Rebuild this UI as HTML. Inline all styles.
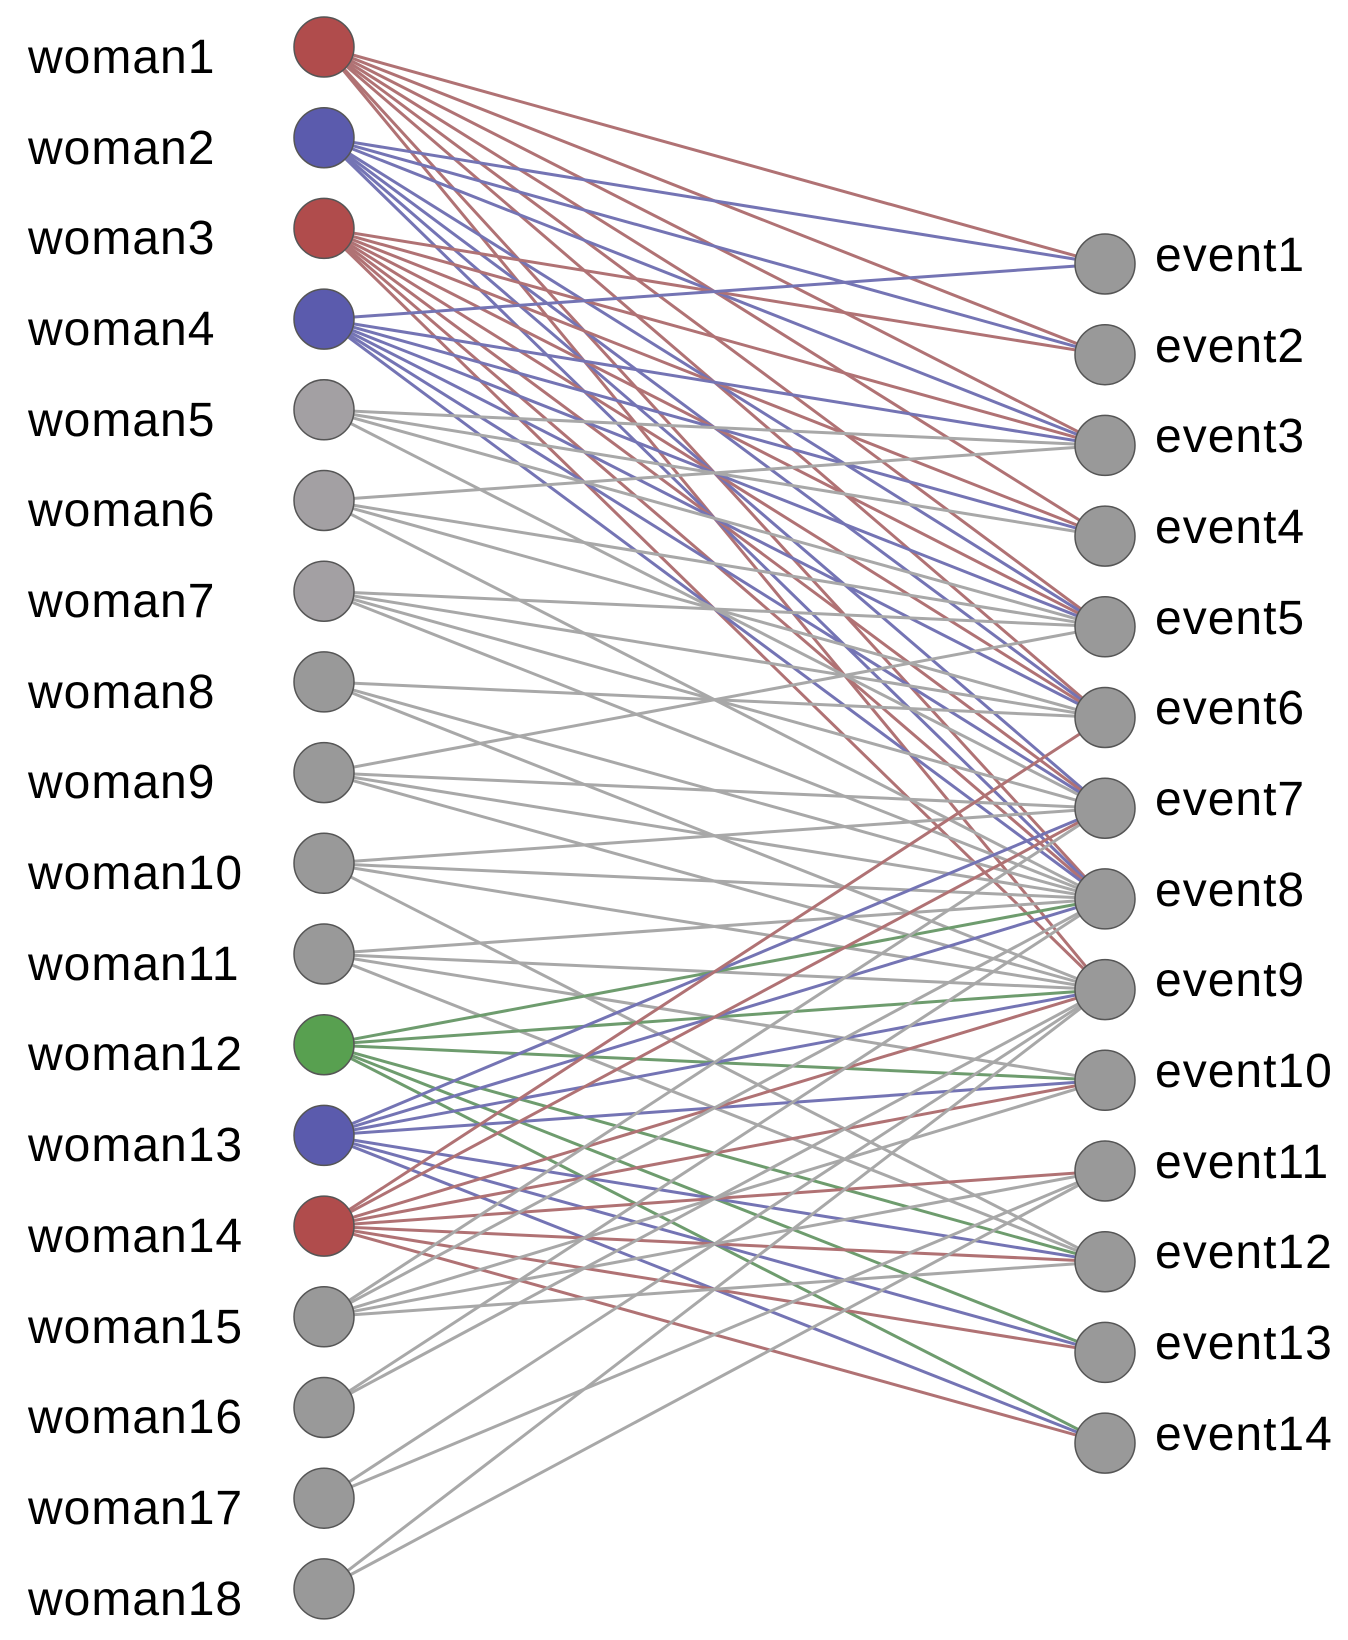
<!DOCTYPE html>
<html><head><meta charset="utf-8"><style>
html,body{margin:0;padding:0;background:#fff;}
svg{display:block;}
text{font-family:"Liberation Sans",sans-serif;font-size:48px;fill:#000;letter-spacing:1px;}
</style></head><body>
<svg id="s" width="1348" height="1640" viewBox="0 0 1348 1640" xmlns="http://www.w3.org/2000/svg">
<g id="edges" stroke-width="3" fill="none"></g>
<g id="nodes" stroke="#555" stroke-width="1.5"></g>
<g id="labels">
<text x="28" y="73">woman1</text>
<text x="28" y="164">woman2</text>
<text x="28" y="254">woman3</text>
<text x="28" y="345">woman4</text>
<text x="28" y="436">woman5</text>
<text x="28" y="526">woman6</text>
<text x="28" y="617">woman7</text>
<text x="28" y="708">woman8</text>
<text x="28" y="798">woman9</text>
<text x="28" y="889">woman10</text>
<text x="28" y="980">woman11</text>
<text x="28" y="1070">woman12</text>
<text x="28" y="1161">woman13</text>
<text x="28" y="1252">woman14</text>
<text x="28" y="1343">woman15</text>
<text x="28" y="1433">woman16</text>
<text x="28" y="1524">woman17</text>
<text x="28" y="1615">woman18</text>
<text x="1155" y="271">event1</text>
<text x="1155" y="362">event2</text>
<text x="1155" y="452">event3</text>
<text x="1155" y="543">event4</text>
<text x="1155" y="634">event5</text>
<text x="1155" y="724">event6</text>
<text x="1155" y="815">event7</text>
<text x="1155" y="906">event8</text>
<text x="1155" y="996">event9</text>
<text x="1155" y="1087">event10</text>
<text x="1155" y="1178">event11</text>
<text x="1155" y="1268">event12</text>
<text x="1155" y="1359">event13</text>
<text x="1155" y="1450">event14</text>
</g>
</svg>
<script>
var NS="http://www.w3.org/2000/svg";
var wx=324, ex=1105, r=30;
function wy(i){return 47+90.7*(i-1);}
function ey(j){return 264+90.7*(j-1);}
var data={1:[1,2,3,4,5,6,8,9],2:[1,2,3,5,6,7,8],3:[2,3,4,5,6,7,8,9],4:[1,3,4,5,6,7,8],
5:[3,4,5,7],6:[3,5,6,8],7:[5,6,7,8],8:[6,8,9],9:[5,7,8,9],10:[7,8,9,12],11:[8,9,10,12],
12:[8,9,10,12,13,14],13:[7,8,9,10,12,13,14],14:[6,7,9,10,11,12,13,14],15:[7,8,10,11,12],
16:[8,9],17:[9,11],18:[9,11]};
var grp={1:'r',3:'r',14:'r',2:'b',4:'b',13:'b',12:'g',5:'l',6:'l',7:'l'};
var ecol={r:'#b07274',b:'#7474b4',g:'#6e9c6e',l:'#a8a8a8',d:'#a8a8a8'};
var ncol={r:'#b04c4c',b:'#5b5bad',g:'#58a050',l:'#a3a0a3',d:'#999999'};
var E=document.getElementById('edges'),N=document.getElementById('nodes');
for(var i=1;i<=18;i++){var g=grp[i]||'d';
 data[i].forEach(function(j){var l=document.createElementNS(NS,'line');
 l.setAttribute('x1',wx);l.setAttribute('y1',wy(i));l.setAttribute('x2',ex);l.setAttribute('y2',ey(j));
 l.setAttribute('stroke',ecol[g]);E.appendChild(l);});}
for(var i=1;i<=18;i++){var c=document.createElementNS(NS,'circle');var g=grp[i]||'d';
 c.setAttribute('cx',wx);c.setAttribute('cy',wy(i));c.setAttribute('r',r);c.setAttribute('fill',ncol[g]);N.appendChild(c);}
for(var j=1;j<=14;j++){var c=document.createElementNS(NS,'circle');
 c.setAttribute('cx',ex);c.setAttribute('cy',ey(j));c.setAttribute('r',r);c.setAttribute('fill','#999999');N.appendChild(c);}
</script>
</body></html>
